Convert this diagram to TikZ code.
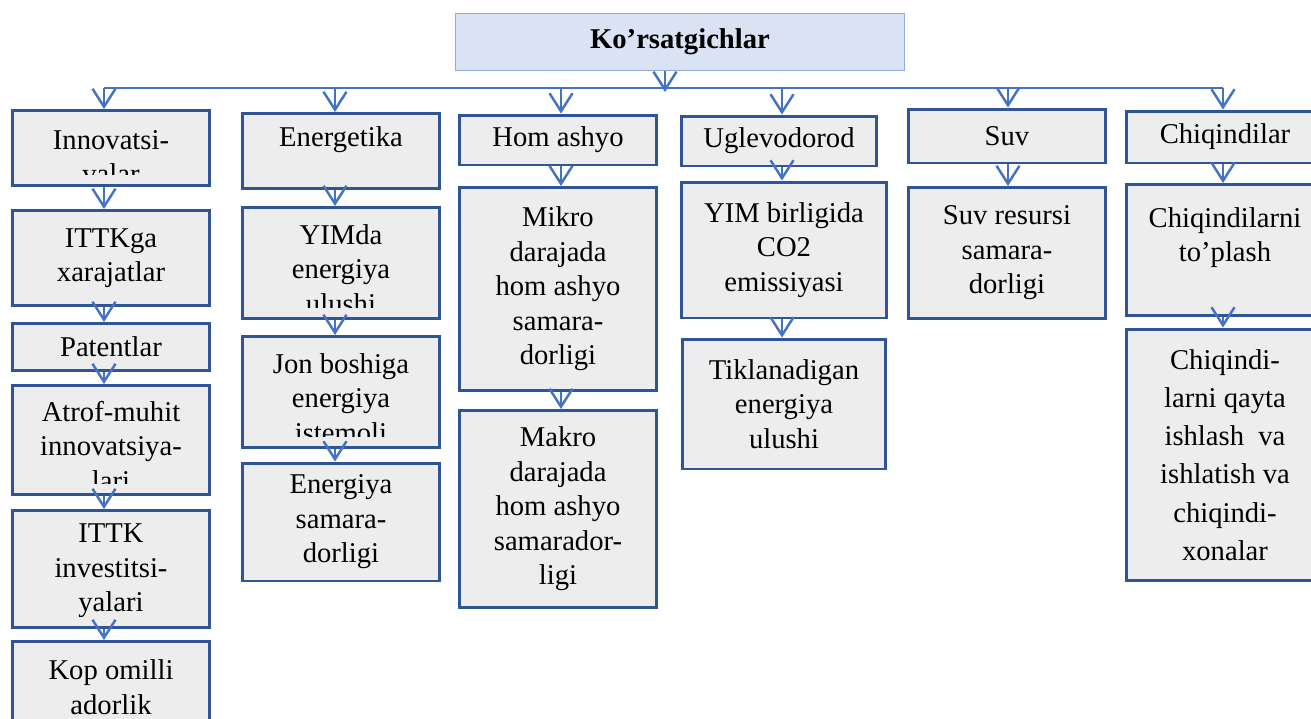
\documentclass[tikz,border=0pt]{standalone}
\usepackage{fontspec}
\setmainfont{Liberation Serif}
\usetikzlibrary{positioning}
\usetikzlibrary{arrows.meta}

\definecolor{ramka}{HTML}{2F5597}
\definecolor{qutirang}{HTML}{EDEDED}
\definecolor{strelkarang}{HTML}{4472C4}
\definecolor{boshrang}{HTML}{DAE3F3}
\definecolor{boshramka}{HTML}{8FAADC}

\tikzset{
  matn/.style={align=center, inner sep=0pt, font=\fontsize{16.3}{19.6}\selectfont},
  quti/.style={matn, draw=ramka, line width=1.7pt, fill=qutirang, minimum width=3.94cm},
  yozuv/.style 2 args={path picture={
      \clip ([yshift=0.22cm]path picture bounding box.south west) rectangle (path picture bounding box.north east);
      \node[matn] at ([yshift=#1]path picture bounding box.center) {#2};}},
  strelka/.style={draw=strelkarang, line width=1.4pt, -{Straight Barb[length=0.36cm, width=0.46cm]}},
  liniya/.style={draw=strelkarang, line width=0.8pt},
}

\begin{document}
\begin{tikzpicture}[x=0.02cm, y=-0.02cm]
\useasboundingbox (0,0) rectangle (1311,718);

% Bosh blok
\node[matn, draw=boshramka, line width=0.8pt, fill=boshrang, minimum width=8.98cm, minimum height=1.14cm, font=\fontsize{16.3}{19.6}\selectfont\bfseries] (kors) at (680,42) {Ko’rsatgichlar};

% Shina nuqtalari
\coordinate (sm) at (665,88);
\coordinate (s1) at (104,88);
\coordinate (s2) at (335,88);
\coordinate (s3) at (561,88);
\coordinate (s4) at (782,88);
\coordinate (s5) at (1008,88);
\coordinate (s6) at (1223,88);

% 1-ustun
\node[quti, minimum height=1.5cm, yozuv={-0.18cm}{Innovatsi-\\valar}] (inn) at (111,148) {};
\node[quti, minimum height=1.9cm] (ittk) at (111,258) {ITTKga\\xarajatlar};
\node[quti, minimum height=0.94cm] (pat) at (111,347) {Patentlar};
\node[quti, minimum height=2.18cm, yozuv={-0.12cm}{Atrof-muhit\\innovatsiya-\\lari}] (atrof) at (111,440) {};
\node[quti, minimum height=2.34cm, yozuv={-0.04cm}{ITTK\\investitsi-\\yalari}] (inv) at (111,569) {};
\node[quti, minimum height=2.34cm, yozuv={0.26cm}{Kop omilli\\adorlik}] (kop) at (111,700) {};

% 2-ustun
\node[quti, minimum height=1.5cm, yozuv={0.22cm}{Energetika}] (ener) at (341,151) {};
\node[quti, minimum height=2.22cm, yozuv={-0.12cm}{YIMda\\energiya\\ulushi}] (yimda) at (341,263) {};
\node[quti, minimum height=2.22cm, yozuv={-0.12cm}{Jon boshiga\\energiya\\istemoli}] (jon) at (341,392) {};
\node[quti, minimum height=2.36cm] (esam) at (341,522) {Energiya\\samara-\\dorligi};

% 3-ustun
\node[quti, minimum height=1.0cm] (hom) at (558,140) {Hom ashyo};
\node[quti, minimum height=4.06cm] (mikro) at (558,289) {Mikro\\darajada\\hom ashyo\\samara-\\dorligi};
\node[quti, minimum height=3.94cm] (makro) at (558,509) {Makro\\darajada\\hom ashyo\\samarador-\\ligi};

% 4-ustun
\node[quti, minimum width=3.9cm, minimum height=1.0cm] (ugl) at (779,141) {Uglevodorod};
\node[quti, minimum width=4.1cm, minimum height=2.72cm] (yimb) at (784,250) {YIM birligida\\CO2\\emissiyasi};
\node[quti, minimum width=4.08cm, minimum height=2.6cm] (tikl) at (784,404) {Tiklanadigan\\energiya\\ulushi};

% 5-ustun
\node[quti, minimum height=1.08cm] (suv) at (1007,136) {Suv};
\node[quti, minimum height=2.62cm] (suvr) at (1007,253) {Suv resursi\\samara-\\dorligi};

% 6-ustun
\node[quti, minimum height=1.04cm] (chiq) at (1225,137) {Chiqindilar};
\node[quti, minimum height=2.62cm, font=\fontsize{16.3}{21.8}\selectfont, yozuv={0.25cm}{Chiqindilarni\\to’plash}] (chyig) at (1225,250) {};
\node[quti, minimum height=5.04cm, font=\fontsize{16.3}{21.8}\selectfont] (chqay) at (1225,455) {Chiqindi-\\larni qayta\\ishlash\ \ va\\ishlatish va\\chiqindi-\\xonalar};

% Shina va strelkalar
\draw[liniya] (s1) -- (s6);
\draw[strelka] (sm |- kors.south) -- ([yshift=-0.08cm]sm);
\draw[strelka] (s1) -- (s1 |- inn.north);
\draw[strelka] (s2) -- (s2 |- ener.north);
\draw[strelka] (s3) -- (s3 |- hom.north);
\draw[strelka] (s4) -- (s4 |- ugl.north);
\draw[strelka] (s5) -- (s5 |- suv.north);
\draw[strelka] (s6) -- (s6 |- chiq.north);

\draw[strelka] (s1 |- inn.south) -- (s1 |- ittk.north);
\draw[strelka] (s1 |- ittk.south) -- (s1 |- pat.north);
\draw[strelka] (s1 |- pat.south) -- (s1 |- atrof.north);
\draw[strelka] (s1 |- atrof.south) -- (s1 |- inv.north);
\draw[strelka] (s1 |- inv.south) -- (s1 |- kop.north);

\draw[strelka] (s2 |- ener.south) -- (s2 |- yimda.north);
\draw[strelka] (s2 |- yimda.south) -- (s2 |- jon.north);
\draw[strelka] (s2 |- jon.south) -- (s2 |- esam.north);

\draw[strelka] (s3 |- hom.south) -- (s3 |- mikro.north);
\draw[strelka] (s3 |- mikro.south) -- (s3 |- makro.north);

\draw[strelka] (s4 |- ugl.south) -- (s4 |- yimb.north);
\draw[strelka] (s4 |- yimb.south) -- (s4 |- tikl.north);

\draw[strelka] (s5 |- suv.south) -- (s5 |- suvr.north);

\draw[strelka] (s6 |- chiq.south) -- (s6 |- chyig.north);
\draw[strelka] (s6 |- chyig.south) -- (s6 |- chqay.north);
\end{tikzpicture}
\end{document}
